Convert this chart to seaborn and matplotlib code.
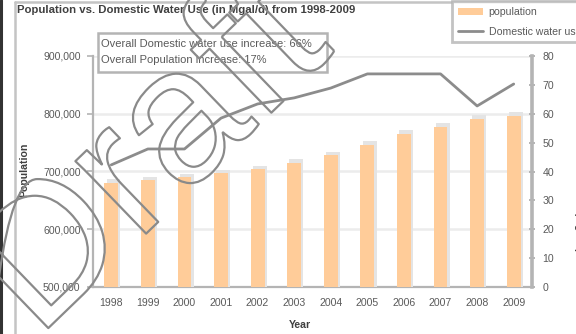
import matplotlib
matplotlib.use("Agg")
import matplotlib.pyplot as plt
import matplotlib.patheffects as pe
from matplotlib.lines import Line2D
from matplotlib.patches import Patch, Rectangle
from matplotlib.ticker import FuncFormatter, MultipleLocator, FixedLocator
import numpy as np
import pandas as pd
import seaborn as sns

years = ["1998", "1999", "2000", "2001", "2002", "2003",
         "2004", "2005", "2006", "2007", "2008", "2009"]
population = [680000, 685000, 690000, 697000, 704000, 715000,
              728000, 746000, 765000, 777000, 791000, 796000]
water_use = [42.3, 47.8, 47.8, 58.5, 63.4, 65.5,
             68.9, 73.8, 73.8, 73.8, 62.7, 70.3]

title = "Population vs. Domestic Water Use (in Mgal/d) from 1998-2009"
note_lines = ["Overall Domestic water use increase: 66%",
              "Overall Population increase: 17%"]
legend_labels = ["population", "Domestic water use"]

sns.set_theme(style="white")
plt.rcParams["font.family"] = ["Liberation Sans", "DejaVu Sans"]

BAR = "#FFCC99"
LINE = "#8c8c8c"
AXIS = "#b4b4b4"
TXT = "#5a5a5a"
DARK = "#404040"
FS = 7.6

df = pd.DataFrame({"year": years, "population": population, "water": water_use})

fig = plt.figure(figsize=(5.76, 3.34), dpi=100)
ax = fig.add_axes([93 / 576, 1 - 287 / 334, (532 - 93) / 576, (287 - 56) / 334])

sns.barplot(data=df, x="year", y="population", ax=ax, color=BAR,
            width=0.38, saturation=1, zorder=3)
for bar in ax.patches:
    bar.set_linewidth(0)
    bar.set_path_effects([
        pe.SimplePatchShadow(offset=(1.6, 2.6), shadow_rgbFace="#e4e4e4", alpha=1.0),
        pe.Normal()])

ax.set_ylim(500000, 900000)
ax.yaxis.set_major_locator(MultipleLocator(100000))
ax.yaxis.set_major_formatter(FuncFormatter(lambda v, p: f"{int(v):,}"))
ax.grid(axis="y", color="#ececec", linewidth=1.8, zorder=0)
ax.set_axisbelow(True)
ax.set_xlabel("")
ax.set_ylabel("")
ax.set_xlim(-0.5, len(years) - 0.5)
ax.xaxis.set_minor_locator(FixedLocator(np.arange(-0.5, len(years), 1.0)))
ax.tick_params(axis="x", which="major", length=0, labelsize=FS, colors=TXT, pad=8)
ax.tick_params(axis="x", which="minor", length=4, width=1.2, color=AXIS, direction="out")
ax.tick_params(axis="y", length=4, width=1.2, color=AXIS, labelsize=FS,
               labelcolor=TXT, direction="out", pad=5)

for side in ["top", "right"]:
    ax.spines[side].set_visible(False)
for side in ["left", "bottom"]:
    ax.spines[side].set_color(AXIS)
    ax.spines[side].set_linewidth(1.6)

ax2 = ax.twinx()
sns.lineplot(x=np.arange(len(years)), y=water_use, ax=ax2, color=LINE,
             linewidth=2, zorder=4)
ax2.set_ylim(0, 80)
ax2.yaxis.set_major_locator(MultipleLocator(10))
ax2.tick_params(axis="y", length=5, width=1.4, color=AXIS, labelsize=FS,
                labelcolor=TXT, direction="inout", pad=5)
for side in ["top", "left", "bottom"]:
    ax2.spines[side].set_visible(False)
ax2.spines["right"].set_color(AXIS)
ax2.spines["right"].set_linewidth(2.6)
ax2.grid(False)

# Titles and axis labels
fig.text(17 / 576, 1 - 10 / 334, title, fontsize=8.2, fontweight="bold",
         color=DARK, va="center", ha="left")
fig.text(24 / 576, 1 - 170 / 334, "Population", rotation=90, fontsize=7.6,
         fontweight="bold", color=DARK, va="center", ha="center")
fig.text(300 / 576, 1 - 325 / 334, "Year", fontsize=7.6, fontweight="bold",
         color=DARK, va="center", ha="center")
fig.text(573.5 / 576, 1 - 108 / 334, "Domestic Water Use (Mgal/d)", rotation=-90,
         fontsize=7.6, fontweight="bold", color=DARK, va="top", ha="left")

# Summary box
fig.add_artist(Rectangle((98 / 576, 1 - 72 / 334), (327 - 98) / 576, 39 / 334,
                         transform=fig.transFigure, facecolor="white",
                         edgecolor=AXIS, linewidth=1.8, zorder=5))
fig.text(101 / 576, 1 - 44 / 334, note_lines[0], fontsize=8, color=TXT,
         va="center", ha="left", zorder=6)
fig.text(101 / 576, 1 - 60 / 334, note_lines[1], fontsize=8, color=TXT,
         va="center", ha="left", zorder=6)

# Legend
handles = [Patch(facecolor=BAR, edgecolor="none"),
           Line2D([0], [0], color=LINE, linewidth=2)]
leg = fig.legend(handles, legend_labels, loc="upper left",
                 bbox_to_anchor=(447 / 576, 1.012), fontsize=FS,
                 frameon=True, fancybox=False, handlelength=2.4,
                 handleheight=0.6, borderpad=0.55, labelspacing=0.9,
                 handletextpad=0.5, labelcolor=TXT)
leg.get_frame().set_edgecolor(AXIS)
leg.get_frame().set_linewidth(2)

# Chart-area frame
fig.add_artist(Line2D([0.002, 0.002], [0, 1], color="#333333", linewidth=2.2,
                      transform=fig.transFigure))
fig.add_artist(Line2D([15 / 576, 15 / 576], [0, 1 - 2 / 334], color="#c4c4c4",
                      linewidth=1.8, transform=fig.transFigure))
fig.add_artist(Line2D([15 / 576, 1], [1 - 2 / 334, 1 - 2 / 334], color="#c4c4c4",
                      linewidth=1.8, transform=fig.transFigure))

# Watermark
fig.text(37 / 576, 1 - 339 / 334, "Draft", rotation=44, rotation_mode="anchor",
         fontsize=138, color="none", ha="left", va="baseline",
         family="Liberation Sans", zorder=10,
         path_effects=[pe.Stroke(linewidth=1.6, foreground="#8a8a8a")])

fig.savefig("out.png", dpi=100, facecolor="white")
